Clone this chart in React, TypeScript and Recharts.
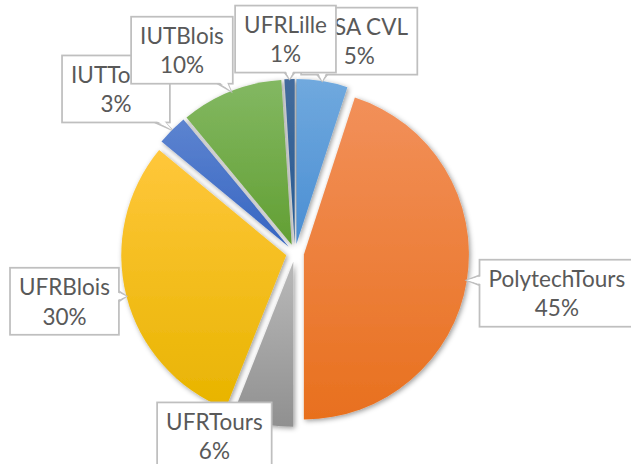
import React from 'react';
import { PieChart, Pie, Sector } from 'recharts';

// ---- data ----
const categories = ['INSA CVL', 'PolytechTours', 'UFRTours', 'UFRBlois', 'IUTTours', 'IUTBlois', 'UFRLille'];
const shares = [5, 45, 6, 30, 3, 10, 1];
const percentLabels = ['5%', '45%', '6%', '30%', '3%', '10%', '1%'];

const data = categories.map((name, i) => ({ name, value: shares[i] }));

// ---- styles ----
const sliceGradients: [string, string][] = [
  ['#70A9DE', '#4A8ED3'],
  ['#F2905A', '#E8701E'],
  ['#B9B9B9', '#909090'],
  ['#FFC73B', '#E8B400'],
  ['#5D84D0', '#3665C2'],
  ['#83B862', '#629F33'],
  ['#436B9C', '#265991'],
];

// label box centre offset from the slice's outer mid point
const labelOffsets: [number, number][] = [
  [37, -40],
  [90, 13],
  [-48, 12],
  [-62, 5],
  [-56, -41],
  [-49, -41],
  [-4, -40],
];

const RAD = Math.PI / 180;
const EXPLODE = 9;
const FONT = 'Lato';
const FONT_SIZE = 22.5;
const PAD_X = 9;
const BOX_H = 67;
const LINE_GAP = 29.5;
const BOX_STROKE = '#BFBFBF';
const TEXT_COLOR = '#595959';

let ctx: CanvasRenderingContext2D | null = null;
function measure(t: string): number {
  if (!ctx) ctx = document.createElement('canvas').getContext('2d');
  if (!ctx) return t.length * FONT_SIZE * 0.5;
  ctx.font = `${FONT_SIZE}px ${FONT}`;
  return ctx.measureText(t).width;
}

function renderSlice(props: any) {
  const { cx, cy, innerRadius, outerRadius, startAngle, endAngle, midAngle, index } = props;
  const dx = EXPLODE * Math.cos(-midAngle * RAD);
  const dy = EXPLODE * Math.sin(-midAngle * RAD);
  return (
    <g filter="url(#sliceShadow)">
      <Sector
        cx={cx + dx}
        cy={cy + dy}
        innerRadius={innerRadius}
        outerRadius={outerRadius}
        startAngle={startAngle}
        endAngle={endAngle}
        fill={`url(#sliceGrad${index})`}
        stroke="none"
      />
    </g>
  );
}

function renderCallout(props: any) {
  const { cx, cy, outerRadius, midAngle, index } = props;
  const R = outerRadius + EXPLODE;
  const ax = cx + R * Math.cos(-midAngle * RAD);
  const ay = cy + R * Math.sin(-midAngle * RAD);
  const [ox, oy] = labelOffsets[index];
  const bx = ax + ox;
  const by = ay + oy;
  const l1 = categories[index];
  const l2 = percentLabels[index];
  const w = Math.max(measure(l1), measure(l2)) + 2 * PAD_X;
  const h = BOX_H;
  const left = bx - w / 2;
  const top = by - h / 2;
  const right = left + w;
  const bottom = top + h;
  const clamp = (v: number, a: number, b: number) => Math.max(a, Math.min(b, v));
  let wedge: string | null = null;
  let cover: string | null = null;
  const hw = 5;
  if (ay > bottom) {
    const x0 = clamp(ax, left + 10, right - 10);
    wedge = `${x0 - hw},${bottom} ${ax},${ay} ${x0 + hw},${bottom}`;
    cover = `${x0 - hw + 1},${bottom - 2} ${ax},${ay} ${x0 + hw - 1},${bottom - 2}`;
  } else if (ay < top) {
    const x0 = clamp(ax, left + 10, right - 10);
    wedge = `${x0 - hw},${top} ${ax},${ay} ${x0 + hw},${top}`;
    cover = `${x0 - hw + 1},${top + 2} ${ax},${ay} ${x0 + hw - 1},${top + 2}`;
  } else if (ax < left) {
    const y0 = clamp(ay, top + 10, bottom - 10);
    wedge = `${left},${y0 - hw} ${ax},${ay} ${left},${y0 + hw}`;
    cover = `${left + 2},${y0 - hw + 1} ${ax},${ay} ${left + 2},${y0 + hw - 1}`;
  } else if (ax > right) {
    const y0 = clamp(ay, top + 10, bottom - 10);
    wedge = `${right},${y0 - hw} ${ax},${ay} ${right},${y0 + hw}`;
    cover = `${right - 2},${y0 - hw + 1} ${ax},${ay} ${right - 2},${y0 + hw - 1}`;
  }
  return (
    <g>
      {wedge && <polygon points={wedge} fill="#fff" stroke={BOX_STROKE} strokeWidth={1.75} strokeLinejoin="miter" />}
      <rect x={left} y={top} width={w} height={h} fill="#fff" stroke={BOX_STROKE} strokeWidth={1.75} />
      {cover && <polygon points={cover} fill="#fff" stroke="none" />}
      <text
        x={bx}
        y={by - LINE_GAP / 2}
        textAnchor="middle"
        dominantBaseline="central"
        fontFamily={FONT}
        fontSize={FONT_SIZE}
        fill={TEXT_COLOR}
      >
        {l1}
      </text>
      <text
        x={bx}
        y={by + LINE_GAP / 2}
        textAnchor="middle"
        dominantBaseline="central"
        fontFamily={FONT}
        fontSize={FONT_SIZE}
        fill={TEXT_COLOR}
      >
        {l2}
      </text>
    </g>
  );
}

export default function App() {
  return (
    <div style={{ position: 'absolute', left: 0, top: 0, width: 631, height: 464, background: '#fff' }}>
      <svg width={0} height={0} style={{ position: 'absolute' }}>
        <defs>
          {sliceGradients.map(([a, b], i) => (
            <linearGradient key={i} id={`sliceGrad${i}`} x1="0" y1="0" x2="0" y2="1">
              <stop offset="0%" stopColor={a} />
              <stop offset="100%" stopColor={b} />
            </linearGradient>
          ))}
          <filter id="sliceShadow" x="-20%" y="-20%" width="140%" height="140%">
            <feDropShadow dx="1.5" dy="1.5" stdDeviation="2.5" floodColor="#000" floodOpacity="0.4" />
          </filter>
        </defs>
      </svg>
      <PieChart width={631} height={464} margin={{ top: 0, right: 0, bottom: 0, left: 0 }}>
        <Pie
          data={data}
          dataKey="value"
          nameKey="name"
          cx={295}
          cy={253}
          outerRadius={165}
          startAngle={90}
          endAngle={-270}
          fill="transparent"
          stroke="none"
          label={renderSlice}
          labelLine={false}
          isAnimationActive={false}
        />
        <Pie
          data={data}
          dataKey="value"
          nameKey="name"
          cx={295}
          cy={253}
          outerRadius={165}
          startAngle={90}
          endAngle={-270}
          fill="transparent"
          stroke="none"
          label={renderCallout}
          labelLine={false}
          isAnimationActive={false}
        />
      </PieChart>
    </div>
  );
}
